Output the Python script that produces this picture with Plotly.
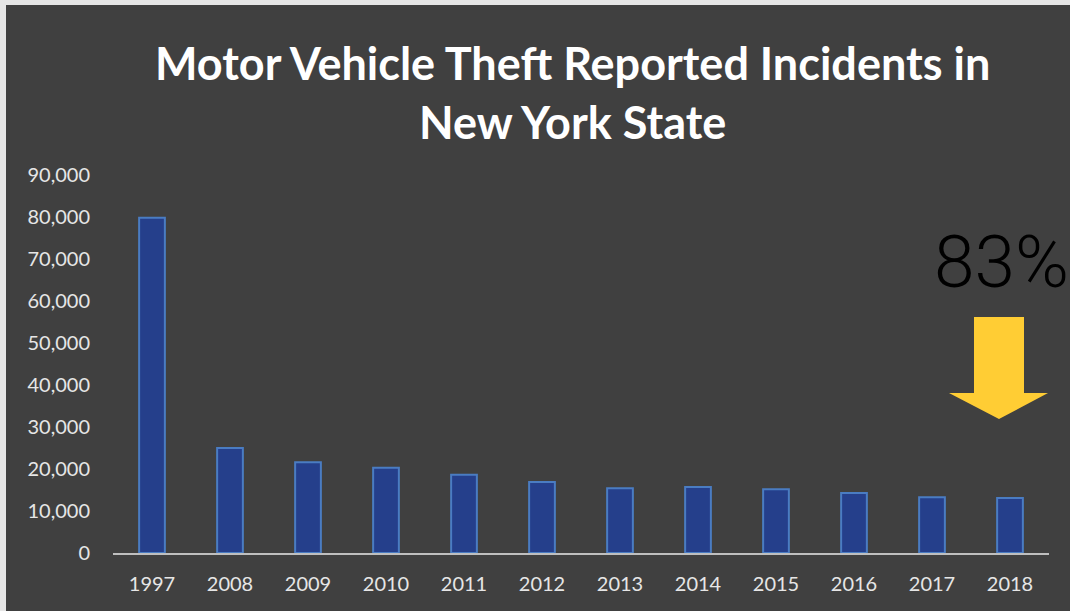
import plotly.graph_objects as go

years = ["1997", "2008", "2009", "2010", "2011", "2012", "2013", "2014", "2015", "2016", "2017", "2018"]
incidents = [79800, 25000, 21600, 20300, 18650, 16900, 15400, 15700, 15200, 14300, 13300, 13100]
title_lines = ["Motor Vehicle Theft Reported Incidents in", "New York State"]
drop_label = "83%"

W, H = 1070, 611
L, R, T, B = 113, 21, 175, 58
pw, ph = W - L - R, H - T - B

def px(x):
    return (x - L) / pw

def py(y):
    return (H - B - y) / ph

fig = go.Figure()
fig.add_trace(go.Bar(
    x=years, y=incidents,
    marker=dict(color="#253F8B", line=dict(color="#4A7CC2", width=2)),
    width=0.33, hoverinfo="skip",
))

shapes = []
# page border strips
shapes.append(dict(type="rect", xref="paper", yref="paper", x0=px(0), x1=px(W), y0=py(0), y1=py(5),
                   fillcolor="#e6e6e6", line=dict(width=0), layer="above"))
shapes.append(dict(type="rect", xref="paper", yref="paper", x0=px(0), x1=px(6), y0=py(0), y1=py(H),
                   fillcolor="#e6e6e6", line=dict(width=0), layer="above"))
# arrow
pts = [(974, 317), (1024, 317), (1024, 393), (1048, 393), (999, 419), (949, 393), (974, 393)]
path = "M " + " L ".join(f"{px(x)},{py(y)}" for x, y in pts) + " Z"
shapes.append(dict(type="path", xref="paper", yref="paper", path=path,
                   fillcolor="#FFCD34", line=dict(width=0)))

annotations = [
    dict(text="<b>" + title_lines[0] + "<br>" + title_lines[1] + "</b>", xref="paper", yref="paper",
         x=px(572), y=py(92), xanchor="center", yanchor="middle", showarrow=False,
         font=dict(family="Lato, sans-serif", size=45, color="#ffffff"), align="center"),
    dict(text=drop_label, xref="paper", yref="paper", x=px(1001), y=py(262),
         xanchor="center", yanchor="middle", showarrow=False,
         font=dict(family="Roboto, sans-serif", size=73, weight=300, color="#000000")),
]

fig.update_layout(
    width=W, height=H, autosize=False,
    margin=dict(l=L, r=R, t=T, b=B, pad=0),
    paper_bgcolor="#404040", plot_bgcolor="#404040",
    showlegend=False, bargap=0.67,
    shapes=shapes, annotations=annotations,
    font=dict(family="Lato, sans-serif", color="#d9d9d9"),
)
fig.update_xaxes(showgrid=False, zeroline=False, showline=True, linecolor="#bfbfbf", linewidth=2,
                 ticks="", tickfont=dict(size=20, color="#e6e6e6"), ticklabelstandoff=12,
                 range=[-0.5, 11.5])
fig.update_yaxes(showgrid=False, zeroline=False, showline=False, range=[0, 90000],
                 tickvals=list(range(0, 90001, 10000)), tickformat=",d",
                 ticks="", tickfont=dict(size=20, color="#e6e6e6"), ticklabelstandoff=22)

fig.write_html("out.html", config={"displayModeBar": False})
with open("out.html", encoding="utf-8") as f:
    html = f.read()
html = html.replace("<head>", "<head><style>html,body{margin:0;padding:0;overflow:hidden;}</style>", 1)
with open("out.html", "w", encoding="utf-8") as f:
    f.write(html)
